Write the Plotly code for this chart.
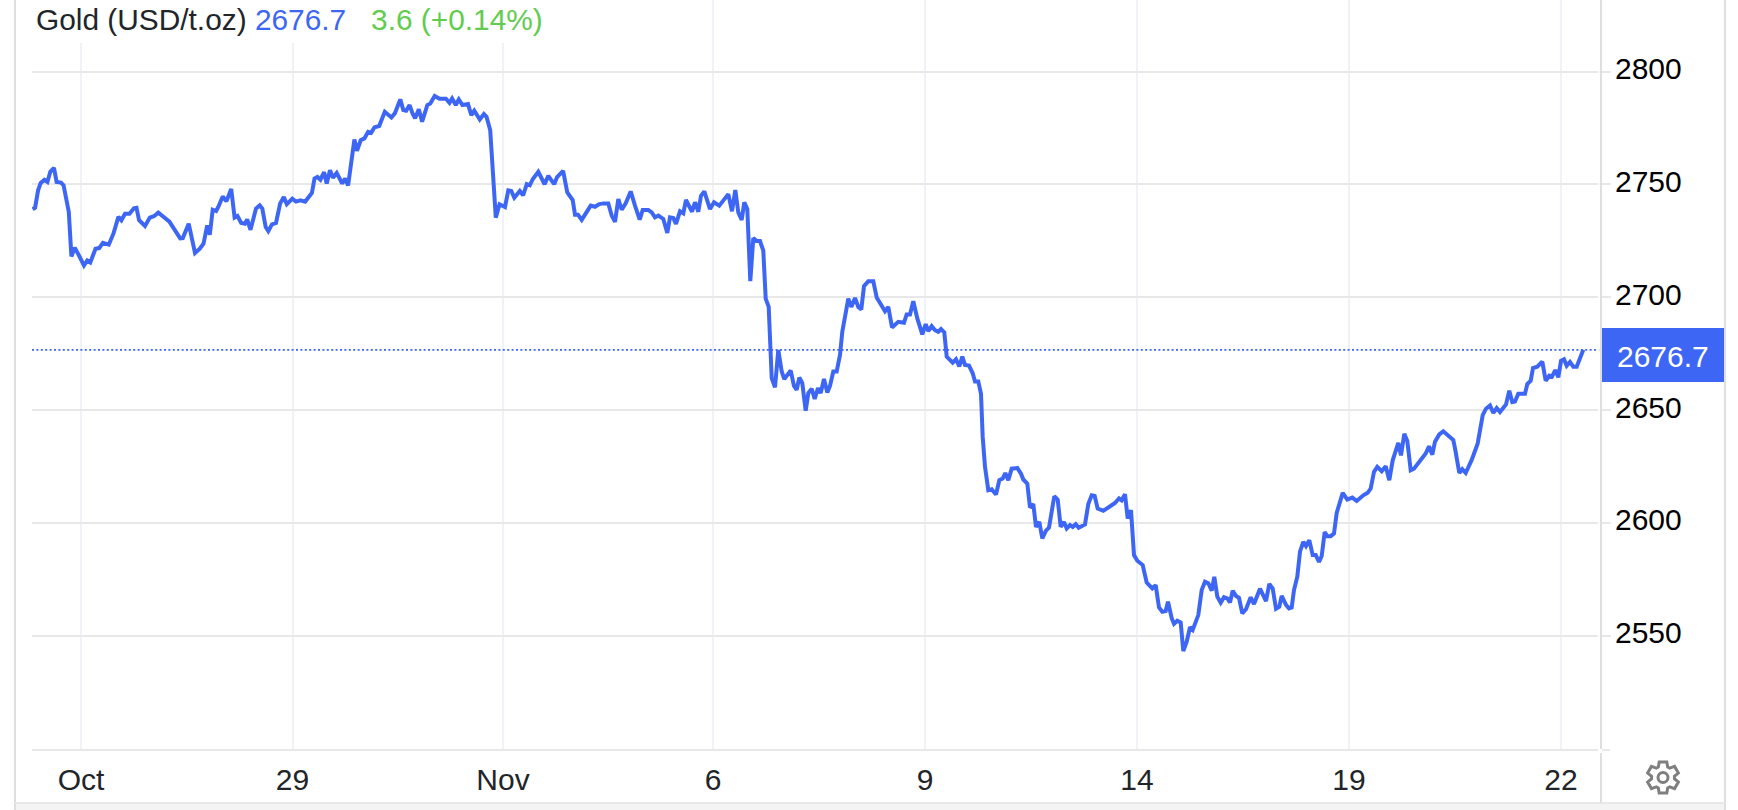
import math
import plotly.graph_objects as go

# Trading-time index along the horizontal axis and gold price in USD/t.oz
session_index = [
3.6,6.1,9.1,11.7,15.4,18.4,21.3,25.0,27.6,32.0,34.6,37.6,39.8,42.4,45.7,49.4,55.0,58.3,61.3,66.5,70.2,73.9,79.8,84.6,89.4,92.4,96.0,100.5,104.9,107.5,
110.1,116.0,120.8,124.9,129.3,133.8,140.4,144.9,151.2,153.8,159.7,166.0,170.8,174.5,178.2,180.8,183.7,187.1,189.3,193.7,197.4,202.2,205.6,208.5,212.2,215.9,218.2,221.5,227.0,230.7,
233.3,236.7,239.3,243.0,247.0,251.1,254.8,257.8,263.3,267.0,271.4,276.2,282.9,285.5,288.4,291.4,295.1,297.7,301.0,304.0,307.7,313.2,316.2,319.1,325.4,328.0,331.7,335.4,339.1,342.1,
345.4,350.2,355.8,362.4,365.8,371.3,374.3,377.2,380.6,383.5,386.1,389.8,393.1,398.3,401.3,405.7,410.5,416.9,420.5,423.1,426.8,429.8,433.5,439.0,442.3,445.3,450.8,454.9,457.5,461.2,
466.8,470.5,476.0,479.3,482.3,485.3,490.8,494.1,497.8,500.8,503.7,509.3,515.6,519.3,525.2,528.1,534.1,538.3,541,543.7,546,549,552.7,557,561.7,566,570.3,575,579.3,582.7,
586,589.3,592.7,596.7,601.7,606,610.7,613.7,619.3,622.7,626,629.3,634.3,638.3,641,644.3,647,651,654.3,657,663,666,669.3,672,675.3,681,685,690.3,694.3,699.3,
703,706.3,709.3,712.7,715.3,718.3,721.3,724.3,727.7,731,734.3,736.7,739.7,742.7,746,749.3,752.7,755.3,761.7,765,767.7,770.3,773.3,776.7,779.3,782.7,785.7,789,791.7,795,
798.3,801,804.3,807.7,811,813.3,819.3,822.3,826,829.3,832.3,835,839.3,844.3,847.7,852.7,856,859.3,863,869.3,875,877.7,881,884.3,888.3,893.3,896.7,899.3,902.7,906,
909.3,912,915.3,917.7,923.7,927,930.3,933.3,936,940,943.7,946,949.3,952,953.7,956,959.3,962.7,967,970.3,973.7,976.3,979.3,982.7,988.3,992,994.3,998.3,1001,1004.3,
1007,1010.3,1013.3,1017,1020,1025.3,1028.7,1031.7,1035,1037.7,1041,1043.7,1046.7,1049.7,1056,1059.3,1062.7,1065.7,1068.7,1074.3,1079.3,1082.7,1086,1090,1092.7,1096,1098.7,1102,1105,1108.3,
1113.7,1117.7,1123.3,1126.7,1130,1133.3,1136.7,1139,1142.7,1145,1148.3,1151.7,1154.3,1157.7,1161,1163.7,1169.3,1172.7,1176,1179.3,1182.7,1185.3,1188.3,1191.7,1195,1198.3,1201,1203.7,1207,1210,
1213.3,1217,1221.7,1225,1231,1237,1240.3,1243.7,1247,1250.3,1252.7,1257,1260,1262.7,1265,1268.3,1271,1274.3,1277,1280.3,1283.7,1286.7,1290,1292.7,1295.7,1298.3,1301.7,1305,1307.7,1313.7,
1318.3,1323.3,1327.7,1334.3,1338.7,1341.7,1345,1348.3,1352.7,1356.7,1360.3,1363.7,1369.3,1372,1375.3,1378.3,1381.7,1385,1393.3,1396.7,1400,1403.3,1406,1410.3,1414.3,1419.3,1424.3,1426.3,1430.3,1433.3,
1436.7,1442.7,1448.7,1453.7,1457,1461,1464.3,1467.7,1471,1477,1480.3,1483.3,1486,1489.3,1496,1498.3,1501.7,1504,1508.3,1513.3,1516.7,1520.3,1523,1526.3,1529.3,1532,1535,1537.7,1541,1544.3,
1547.7,1554.3,
]
gold_price = [
2739.0,2739.7,2747.4,2750.7,2752.1,2751.1,2755.6,2757.3,2751.1,2750.8,2749.6,2743.0,2737.8,2718.1,2721.9,2719.0,2714.1,2716.3,2715.4,2721.5,2721.8,2724.1,2723.3,2728.4,2735.6,2734.1,2737.0,2737.0,2739.4,2739.6,
2734.1,2731.6,2735.3,2735.9,2737.5,2735.9,2733.5,2730.4,2726.1,2726.2,2732.6,2719.6,2721.5,2723.7,2731.9,2727.7,2738.8,2738.2,2740.0,2744.7,2742.5,2748.0,2735.3,2736.0,2732.9,2732.6,2734.5,2729.9,2739.3,2740.7,
2739.3,2731.1,2729.3,2732.3,2732.9,2741.5,2744.4,2741.2,2743.7,2742.4,2743.0,2742.4,2746.2,2752.6,2753.3,2752.1,2755.4,2750.4,2756.3,2753.0,2755.1,2750.4,2752.6,2749.5,2769.9,2764.9,2769.6,2770.4,2773.3,2772.9,
2775.3,2775.9,2782.2,2779.7,2781.5,2787.7,2783.0,2782.7,2785.2,2781.5,2779.3,2783.3,2777.8,2785.2,2785.9,2789.2,2788.0,2788.0,2786.2,2788.1,2785.2,2787.7,2785.2,2785.6,2780.7,2782.7,2778.8,2781.2,2780.0,2774.1,
2735.3,2741.2,2740.0,2747.4,2747.1,2744.1,2747.1,2745.2,2750.1,2749.6,2752.3,2755.6,2750.1,2753.8,2750.1,2753.3,2756.0,2746.5,2745.0,2743.1,2736.6,2736.6,2734.3,2737.2,2740.6,2740.1,2741.3,2741.6,2741.6,2736.2,
2733.4,2743.5,2738.8,2741.6,2746.9,2740.6,2734.4,2738.7,2738.7,2737.6,2735.4,2736.2,2734.7,2728.5,2735.4,2735.1,2732.5,2738.1,2737.2,2743.1,2737.9,2742.1,2737.9,2745.0,2746.9,2739.1,2742.1,2740.6,2743.1,2745.7,
2738.1,2747.5,2737.6,2734.3,2742.1,2739.1,2707.1,2726.2,2724.9,2724.9,2720.7,2699.4,2695.7,2664.1,2660.1,2676.6,2667.1,2663.7,2667.5,2660.7,2659.0,2664.4,2661.9,2649.7,2657.5,2659.4,2654.9,2659.7,2657.5,2663.8,
2657.8,2660.7,2667.1,2667.1,2674.4,2684.7,2699.4,2695.7,2699.7,2695.7,2694.6,2704.9,2707.1,2707.1,2699.9,2696.5,2693.8,2695.7,2686.6,2689.1,2688.7,2692.4,2692.4,2698.2,2690.6,2683.5,2688.1,2685.0,2687.2,2685.4,
2684.7,2685.9,2684.4,2673.7,2671.0,2672.5,2669.3,2673.7,2670.0,2669.7,2666.3,2662.6,2662.6,2657.2,2638.1,2624.8,2614.5,2614.9,2612.5,2618.9,2619.6,2622.1,2618.9,2624.0,2624.3,2621.8,2619.2,2617.4,2606.8,2608.3,
2598.2,2600.4,2593.1,2596.5,2597.9,2611.8,2610.3,2598.2,2600.4,2597.5,2599.0,2598.2,2599.4,2597.8,2599.3,2608.3,2612.2,2611.9,2606.3,2605.3,2606.8,2608.3,2608.8,2610.8,2610.0,2612.7,2601.9,2605.6,2585.7,2583.2,
2581.3,2573.5,2570.9,2572.4,2562.5,2560.6,2560.9,2565.0,2557.7,2555.2,2556.6,2555.8,2543.2,2547.3,2553.7,2552.5,2559.1,2570.2,2573.9,2573.2,2569.9,2576.1,2567.3,2564.6,2567.0,2566.5,2564.7,2569.9,2567.6,2566.8,
2559.9,2561.7,2567.0,2564.0,2570.8,2565.3,2572.9,2570.9,2561.9,2562.8,2567.6,2563.6,2562.1,2562.5,2570.2,2576.1,2587.2,2591.6,2589.7,2592.3,2585.7,2585.7,2582.7,2585.3,2595.9,2594.1,2594.1,2595.3,2604.4,2613.3,
2610.3,2611.2,2609.7,2612.2,2613.3,2615.2,2622.6,2624.8,2622.9,2625.1,2618.9,2627.7,2635.4,2629.9,2639.5,2636.3,2623.3,2624.0,2629.2,2630.7,2633.9,2630.2,2636.0,2639.2,2640.6,2638.5,2636.7,2632.3,2622.1,2623.8,
2622.1,2627.9,2635.2,2647.7,2650.6,2652.0,2648.7,2650.9,2649.1,2652.5,2658.6,2653.5,2653.8,2657.2,2657.2,2661.5,2663.0,2668.6,2669.2,2671.5,2663.0,2665.2,2664.8,2667.7,2664.5,2671.8,2672.5,2669.6,2671.3,2669.2,
2669.2,2676.7,
]
last_price = 2676.7
x_tick_positions = [52, 263.5, 474, 684, 896, 1108, 1320, 1532]
x_tick_labels = ["Oct", "29", "Nov", "6", "9", "14", "19", "22"]
y_ticks = [2550, 2600, 2650, 2700, 2750, 2800]

BLUE = "#3D66F5"
GREEN = "#62CC4E"
GRID_H = "#E8E8E8"
GRID_V = "#EFF3F7"
BORDER = "#DEDEDE"
FONT = "Liberation Sans"
W, H = 1738, 810
L, R, T, B = 32, 1601, 0, 750


def X(p):
    return (p - L) / (R - L)


def Y(p):
    return (B - p) / (B - T)


fig = go.Figure()
fig.add_trace(go.Scatter(x=[3, 1572], y=[last_price, last_price], mode="lines",
                         line=dict(color=BLUE, width=1.8, dash="2px 2.4px"), hoverinfo="skip"))
fig.add_trace(go.Scatter(x=session_index, y=gold_price, mode="lines",
                         line=dict(color=BLUE, width=4, shape="linear"), hoverinfo="skip"))

shapes = []


def frame_line(x0, y0, x1, y1, color=BORDER, width=2):
    shapes.append(dict(type="line", xref="paper", yref="paper", x0=X(x0), y0=Y(y0), x1=X(x1), y1=Y(y1),
                       line=dict(color=color, width=width), layer="above"))


# white title strip that the first gridlines stop under
shapes.append(dict(type="rect", xref="paper", yref="paper", x0=X(16), x1=X(560), y0=Y(43), y1=Y(0),
                   fillcolor="#FFFFFF", line=dict(width=0), layer="above"))
# page frame
shapes.append(dict(type="rect", xref="paper", yref="paper", x0=X(15), x1=X(1724), y0=Y(810), y1=Y(803),
                   fillcolor="#F4F4F5", line=dict(width=0), layer="above"))
frame_line(15, 0, 15, 810)
frame_line(1725, 0, 1725, 810)
frame_line(15, 803, 1725, 803, GRID_H)
frame_line(1598.8, 0, 1598.8, 751, "#FFFFFF", 2)
frame_line(1601, 0, 1601, 749)
frame_line(1601, 753, 1601, 803)
frame_line(32, 750, 1598, 750, GRID_H)
frame_line(1602, 750, 1610, 750, GRID_H)

# last-price box
shapes.append(dict(type="rect", xref="paper", yref="paper", x0=X(1602), x1=X(1724), y0=Y(382), y1=Y(328),
                   fillcolor=BLUE, line=dict(width=0), layer="above"))

# settings gear
cx, cy, ro, ri = 1663, 777.5, 16, 11.5
pts = []
for i in range(6):
    a = i * math.pi / 3 - math.pi / 2
    for da, r in [(-0.42, ri), (-0.24, ro), (0.24, ro), (0.42, ri)]:
        pts.append((cx + r * math.cos(a + da), cy + r * math.sin(a + da)))
gear = "M " + " L ".join(f"{X(px):.5f},{Y(py):.5f}" for px, py in pts) + " Z"
shapes.append(dict(type="path", xref="paper", yref="paper", path=gear, line=dict(color="#7F7F7F", width=3)))
shapes.append(dict(type="circle", xref="paper", yref="paper", x0=X(cx - 5), x1=X(cx + 5), y0=Y(cy + 5), y1=Y(cy - 5),
                   line=dict(color="#7F7F7F", width=3)))

annotations = [
    dict(xref="paper", yref="paper", x=X(34), y=Y(20), xanchor="left", yanchor="middle", showarrow=False,
         text=f"Gold (USD/t.oz) <span style='color:{BLUE}'>{last_price}</span>   "
              f"<span style='color:{GREEN}'>3.6 (+0.14%)</span>",
         font=dict(family=FONT, size=29.85, color="#212529")),
    dict(xref="paper", yref="paper", x=X(1663), y=Y(356), xanchor="center", yanchor="middle", showarrow=False,
         text=str(last_price), font=dict(family=FONT, size=30, color="#FFFFFF")),
]

fig.update_layout(
    width=W, height=H, autosize=False,
    margin=dict(l=L, r=W - R, t=T, b=H - B, pad=0),
    paper_bgcolor="#FFFFFF", plot_bgcolor="#FFFFFF",
    showlegend=False, hovermode=False,
    shapes=shapes, annotations=annotations,
    xaxis=dict(range=[3, 1572], tickmode="array", tickvals=x_tick_positions, ticktext=x_tick_labels,
               showgrid=True, gridcolor=GRID_V, gridwidth=2, zeroline=False, showline=False, ticks="",
               ticklabelstandoff=9, tickfont=dict(family=FONT, size=30, color="#212529")),
    yaxis=dict(side="right", range=[2499.3, 2831.76], tickmode="array", tickvals=y_ticks,
               ticktext=[str(v) for v in y_ticks],
               showgrid=True, gridcolor=GRID_H, gridwidth=2, zeroline=False, showline=False,
               ticks="outside", ticklen=9, tickwidth=2, tickcolor=GRID_H, ticklabelstandoff=-2,
               ticklabelshift=-3,
               tickfont=dict(family=FONT, size=30, color="#000000")),
)

fig.write_html("out.html", config=dict(displayModeBar=False, staticPlot=True),
               post_script="document.body.style.margin='0';document.documentElement.style.overflow='hidden';")
